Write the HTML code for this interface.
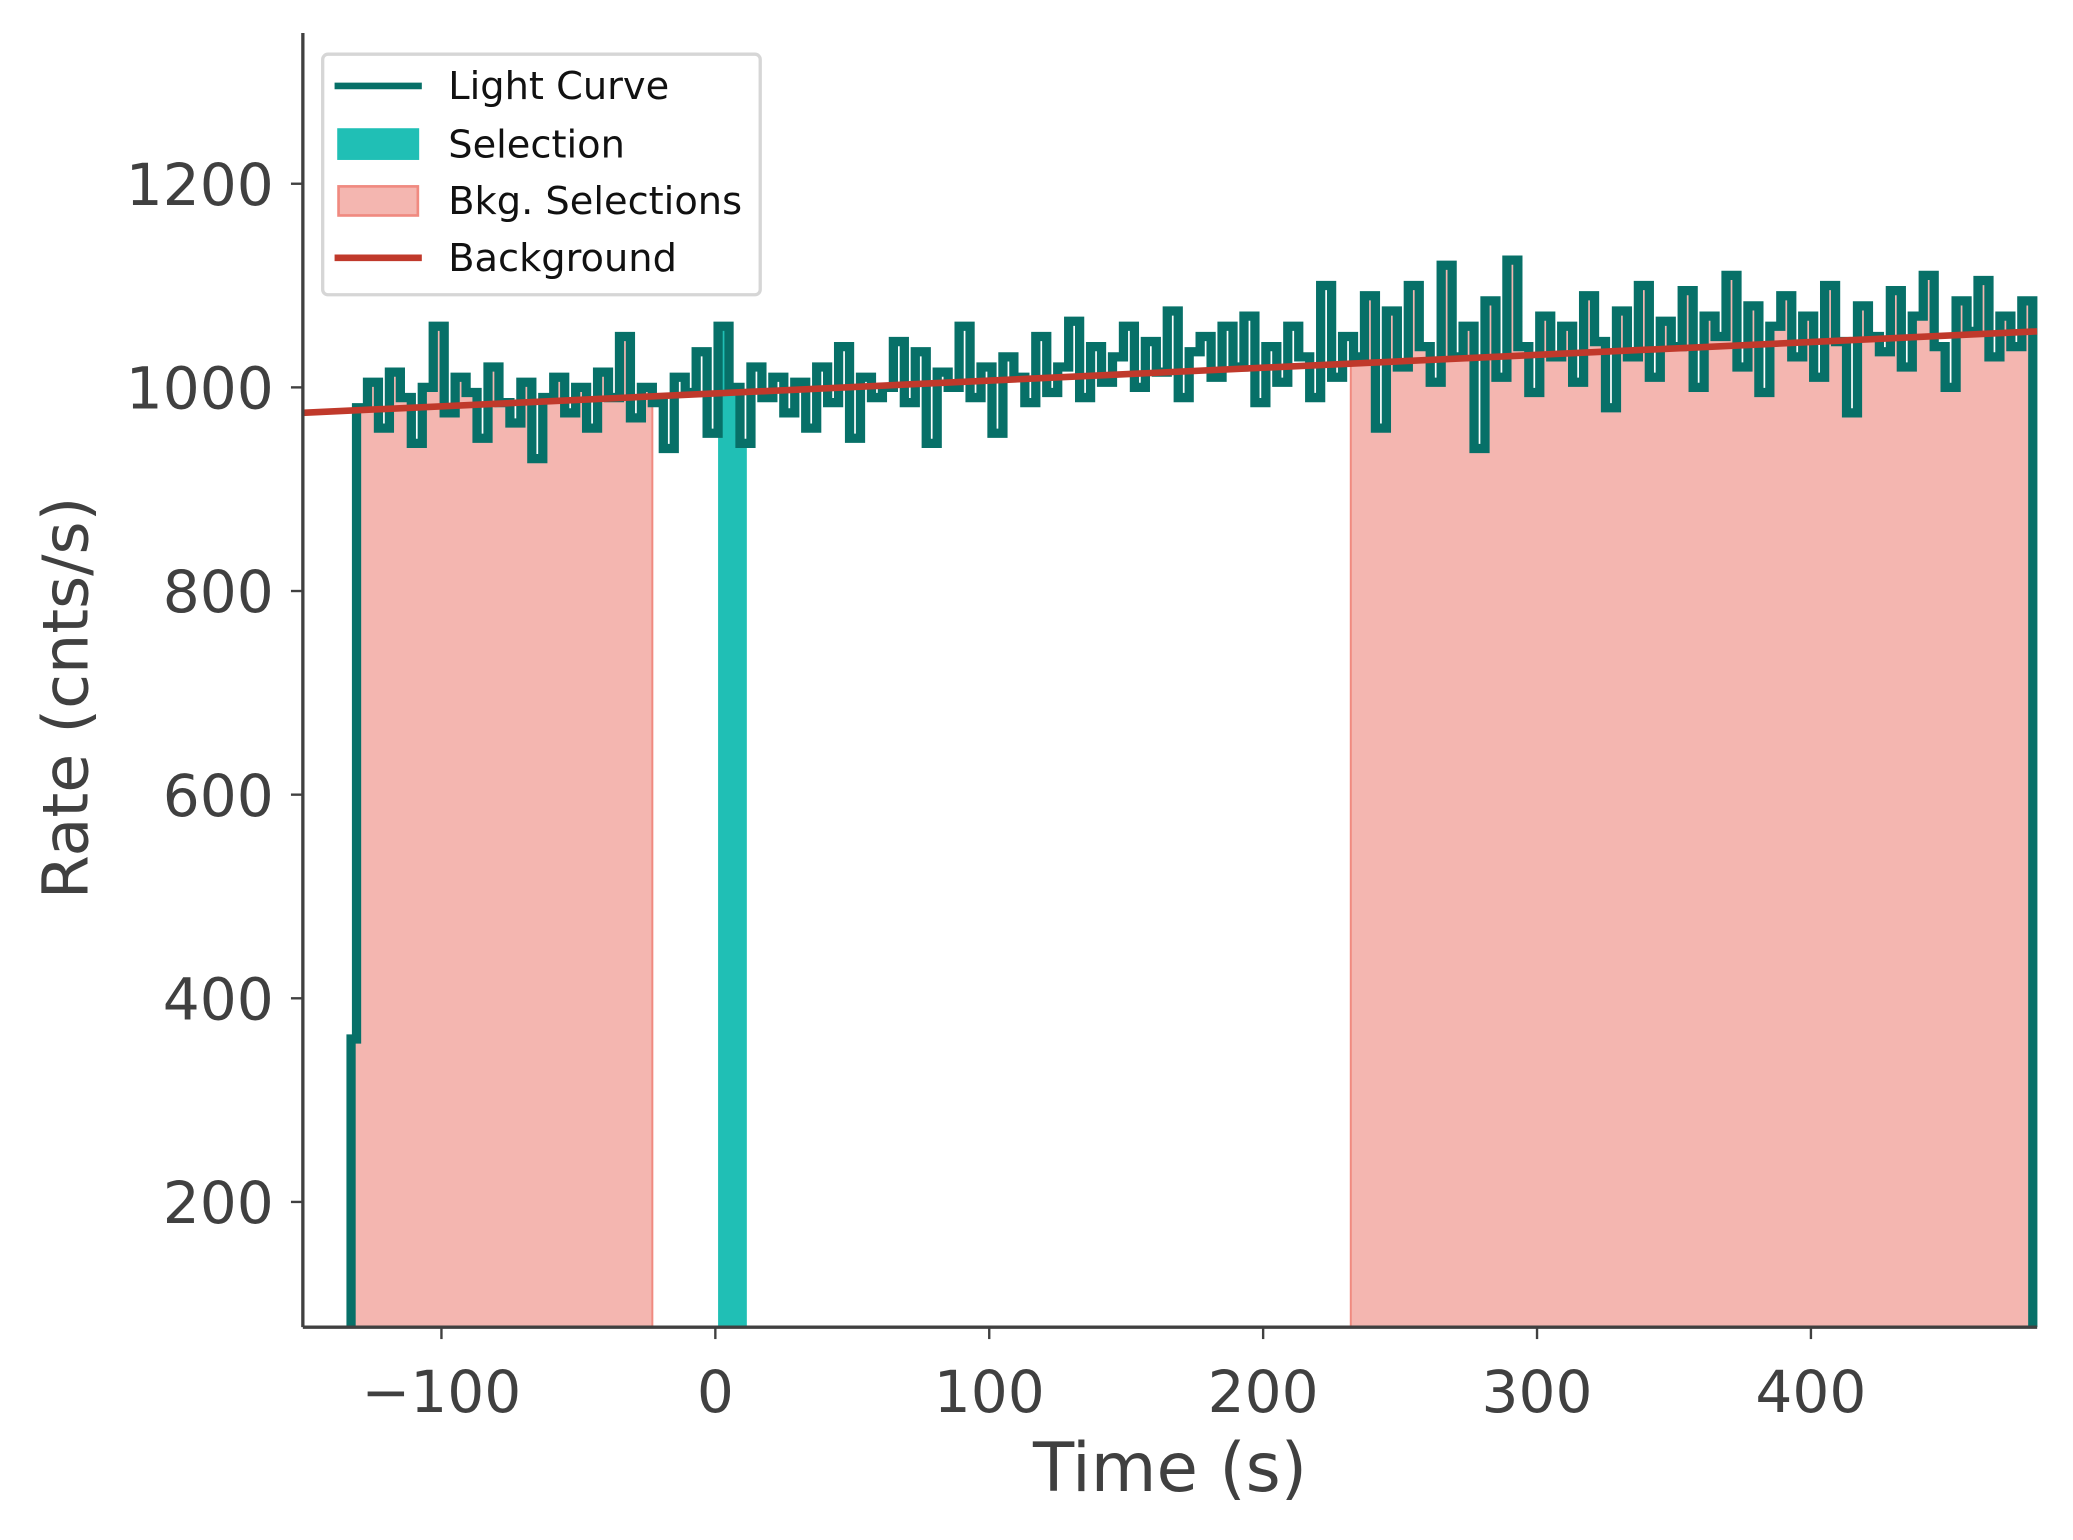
<!DOCTYPE html>
<html><head><meta charset="utf-8">
<style>html,body{margin:0;padding:0;background:#fff}svg{display:block}</style></head>
<body>
<svg id="chart" width="2073" height="1540" viewBox="0 0 1568 1165" xmlns="http://www.w3.org/2000/svg" font-family="'DejaVu Sans','Liberation Sans',sans-serif">
<defs><clipPath id="under"><path id="underPath" d=""/></clipPath></defs>
<g id="plot"></g>
<g id="axes"></g>
<g id="legend">
  <rect x="244" y="41" width="331" height="182" rx="4" fill="#fff" stroke="#d6d6d6" stroke-width="2.5"/>
  <g><line x1="253" y1="65" x2="319" y2="65" stroke="#077068" stroke-width="5"/><text x="339" y="75" font-size="29" fill="#111">Light Curve</text></g>
  <g><rect x="255" y="97" width="62" height="24" fill="#20bfb5"/><text x="339" y="119" font-size="29" fill="#111">Selection</text></g>
  <g><rect x="256" y="141" width="60" height="22" fill="#f4b6b0" stroke="#f08a80" stroke-width="2"/><text x="339" y="162" font-size="29" fill="#111">Bkg. Selections</text></g>
  <g><line x1="253" y1="195" x2="319" y2="195" stroke="#c0392b" stroke-width="5"/><text x="339" y="205" font-size="29" fill="#111">Background</text></g>
</g>
</svg>
<script>
const xTicks = [-100, 0, 100, 200, 300, 400];
const yTicks = [200, 400, 600, 800, 1000, 1200];
const binStart = -131;
const binWidth = 4;
const firstBin = [-133, 360];
const rates = [
980,1005,960,1015,990,945,1000,1060,975,1010,
995,950,1020,985,965,1005,930,990,1010,975,
1000,960,1015,990,1050,970,1000,985,940,1010,
995,1035,955,1060,1000,945,1020,990,1010,975,
1005,960,1020,985,1040,950,1010,990,1000,1045,
985,1035,945,1015,1000,1060,990,1020,955,1030,
1010,985,1050,995,1020,1065,990,1040,1005,1030,
1060,1000,1045,1015,1075,990,1035,1050,1010,1060,
1020,1070,985,1040,1005,1060,1030,990,1100,1010,
1050,1030,1090,960,1075,1020,1100,1040,1005,1120,
1030,1060,940,1085,1010,1125,1040,995,1070,1030,
1060,1005,1090,1045,980,1075,1030,1100,1010,1065,
1040,1095,1000,1070,1050,1110,1020,1080,995,1060,
1090,1030,1070,1010,1100,1045,975,1080,1050,1035,
1095,1020,1070,1110,1040,1000,1085,1055,1105,1030,
1070,1040,1085];
const bkgSelections = [[-132, -23], [232, 480]];
const selection = [1, 11.5];
const bkgLine = [[-150.6, 975], [482.6, 1055]];

const X0 = 229, X1 = 1541, Y0 = 1004, Y1 = 25;
const xMin = -150.6, xMax = 482.6, yMin = 77, yMax = 1348;
const sx = v => X0 + (v - xMin) / (xMax - xMin) * (X1 - X0);
const sy = v => Y0 - (v - yMin) / (yMax - yMin) * (Y0 - Y1);
const NS = 'http://www.w3.org/2000/svg';
function mk(tag, attrs, parent) { const e = document.createElementNS(NS, tag); for (const k in attrs) e.setAttribute(k, attrs[k]); parent.appendChild(e); return e; }
const plot = document.getElementById('plot');
const axes = document.getElementById('axes');

let d = `M${sx(firstBin[0])},${Y0} L${sx(firstBin[0])},${sy(firstBin[1])} L${sx(binStart)},${sy(firstBin[1])}`;
rates.forEach((r, i) => {
  const a = binStart + i * binWidth, b = a + binWidth;
  d += ` L${sx(a)},${sy(r)} L${sx(b)},${sy(r)}`;
});
d += ` L${sx(binStart + rates.length * binWidth)},${Y0}`;
document.getElementById('underPath').setAttribute('d', d + ' Z');

bkgSelections.forEach(s => {
  const r = mk('rect', {x: sx(s[0]), y: Y1, width: sx(s[1]) - sx(s[0]), height: Y0 - Y1, fill: '#f4b6b0', stroke: '#f08a80', 'stroke-width': 1.5, 'clip-path': 'url(#under)'}, plot);
  
  
});
const sel = mk('rect', {x: sx(selection[0]), y: Y1, width: sx(selection[1]) - sx(selection[0]), height: Y0 - Y1, fill: '#20bfb5', 'clip-path': 'url(#under)'}, plot);



const lc = mk('path', {d, fill: 'none', stroke: '#077068', 'stroke-width': 7, 'stroke-linejoin': 'miter'}, plot);



const bl = mk('line', {x1: sx(bkgLine[0][0]), y1: sy(bkgLine[0][1]), x2: sx(bkgLine[1][0]), y2: sy(bkgLine[1][1]), stroke: '#c0392b', 'stroke-width': 5}, plot);



const xa = mk('line', {x1: X0, y1: Y0, x2: X1, y2: Y0, stroke: '#404040', 'stroke-width': 2.5}, axes);


const ya = mk('line', {x1: X0, y1: Y0, x2: X0, y2: Y1, stroke: '#404040', 'stroke-width': 2.5}, axes);



xTicks.forEach(t => {
  const g = mk('g', {}, axes);
  
  
  mk('line', {x1: sx(t), y1: Y0, x2: sx(t), y2: Y0 + 9, stroke: '#404040', 'stroke-width': 1.8}, g);
  const tx = mk('text', {x: sx(t), y: Y0 + 64, 'font-size': 44, fill: '#404040', 'text-anchor': 'middle'}, g);
  tx.textContent = t < 0 ? '\u2212' + Math.abs(t) : String(t);
});
yTicks.forEach(t => {
  const g = mk('g', {}, axes);
  
  
  mk('line', {x1: X0 - 9, y1: sy(t), x2: X0, y2: sy(t), stroke: '#404040', 'stroke-width': 1.8}, g);
  const tx = mk('text', {x: X0 - 22, y: sy(t) + 16, 'font-size': 44, fill: '#404040', 'text-anchor': 'end'}, g);
  tx.textContent = String(t);
});
const xt = mk('text', {x: 885, y: 1128, 'font-size': 51, fill: '#404040', 'text-anchor': 'middle'}, axes);
xt.textContent = 'Time (s)';


const yt = mk('text', {x: 0, y: 0, 'font-size': 48, fill: '#404040', 'text-anchor': 'middle', transform: 'translate(66,528) rotate(-90)'}, axes);
yt.textContent = 'Rate (cnts/s)';


</script>
</body></html>
